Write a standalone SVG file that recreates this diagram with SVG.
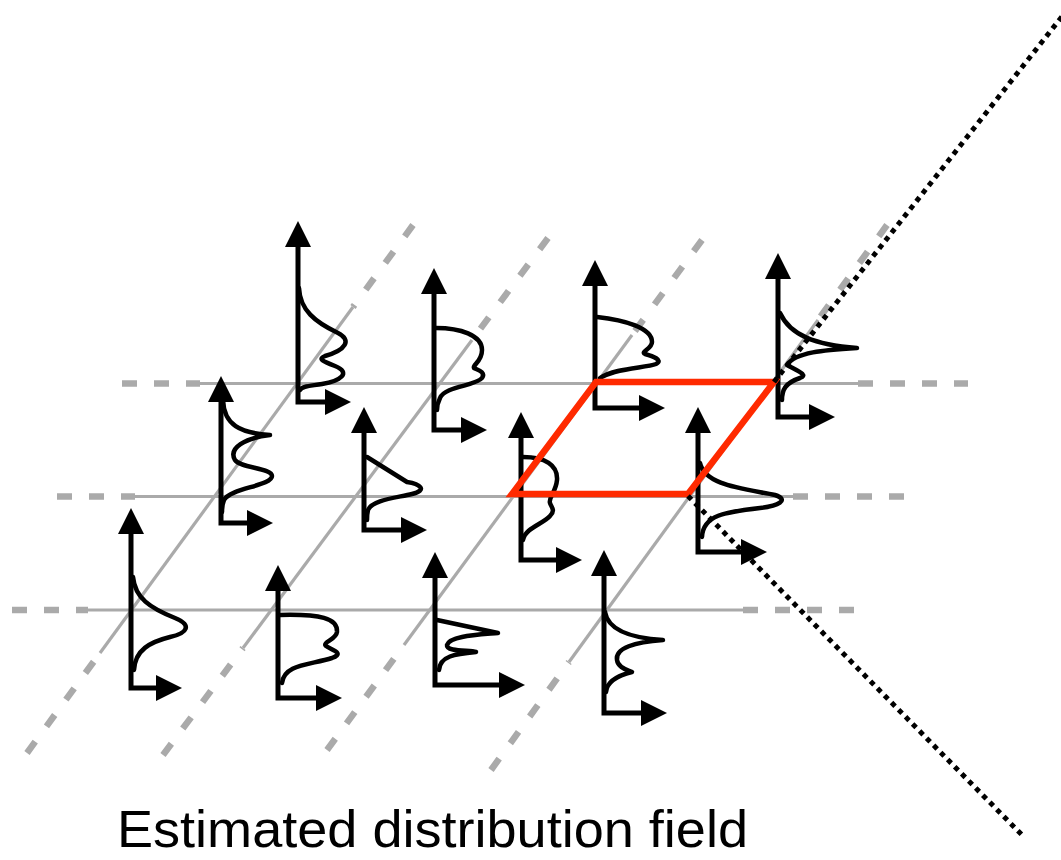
<svg xmlns="http://www.w3.org/2000/svg" width="1061" height="860" viewBox="0 0 1061 860">
<style>
.gs{stroke:#aaaaaa;stroke-width:3.2;fill:none}
.gdh{stroke:#aaaaaa;stroke-width:6.5;fill:none;stroke-dasharray:15 17}
.gdd{stroke:#aaaaaa;stroke-width:6.5;fill:none;stroke-dasharray:14 19}
.ax{stroke:#000;stroke-width:5;fill:none;stroke-linejoin:miter;marker-start:url(#ah);marker-end:url(#ah)}
.cv{stroke:#000;stroke-width:4.5;fill:none;stroke-linejoin:round;stroke-linecap:round}
.red{stroke:#ff2a00;stroke-width:6.5;fill:none;stroke-linejoin:miter}
.dot{stroke:#000;stroke-width:5;fill:none;stroke-dasharray:5 5}
.lbl{font-family:"Liberation Sans",Arial,Helvetica,sans-serif;font-size:52px;fill:#000}
</style>
<defs>
<marker id="ah" viewBox="0 0 26 26" markerWidth="26" markerHeight="26" refX="3" refY="13" orient="auto-start-reverse" markerUnits="userSpaceOnUse">
<path d="M0,0 L26,13 L0,26 z" fill="#000"/>
</marker>
</defs>
<rect width="1061" height="860" fill="#fff"/>
<g id="grid">
<line class="gdh" x1="122" y1="383.5" x2="200" y2="383.5"/>
<line class="gs" x1="200" y1="383.5" x2="858" y2="383.5"/>
<line class="gdh" x1="858" y1="383.5" x2="968" y2="383.5"/>
<line class="gdh" x1="57" y1="496.5" x2="135" y2="496.5"/>
<line class="gs" x1="135" y1="496.5" x2="793" y2="496.5"/>
<line class="gdh" x1="793" y1="496.5" x2="905" y2="496.5"/>
<line class="gdh" x1="12" y1="610" x2="88" y2="610"/>
<line class="gs" x1="88" y1="610" x2="743" y2="610"/>
<line class="gdh" x1="743" y1="610" x2="855" y2="610"/>
<line class="gdd" x1="27" y1="753" x2="100" y2="653"/>
<line class="gs" x1="100" y1="653" x2="353" y2="307"/>
<line class="gdd" x1="413" y1="225" x2="353" y2="307"/>
<line class="gdd" x1="163" y1="755" x2="243" y2="648"/>
<line class="gs" x1="243" y1="648" x2="472" y2="340"/>
<line class="gdd" x1="548" y1="238" x2="472" y2="340"/>
<line class="gdd" x1="327" y1="750" x2="404" y2="645"/>
<line class="gs" x1="404" y1="645" x2="632" y2="335"/>
<line class="gdd" x1="702" y1="240" x2="632" y2="335"/>
<line class="gdd" x1="491" y1="770" x2="569" y2="662"/>
<line class="gs" x1="569" y1="662" x2="818" y2="320"/>
<line class="gdd" x1="887" y1="225" x2="818" y2="320"/>
</g>
<g id="dist-A"><path class="ax" d="M298,244 V402 H328"/><path class="cv" d="M299,288 C300,310 315,322 338,333 C352,340 346,350 325,356 C318,359 322,361 335,366 C352,373 340,381 322,384 C310,386 302,386 300,390"/></g>
<g id="dist-B"><path class="ax" d="M434,291 V430 H464"/><path class="cv" d="M436,328 C460,328 482,335 482,350 C482,362 472,365 474,368 C478,370 486,372 482,378 C476,386 445,386 440,398 C437,404 437,408 437,410"/></g>
<g id="dist-C"><path class="ax" d="M595,283 V408 H642"/><path class="cv" d="M597,317 C625,320 652,328 652,342 C652,349 640,352 645,354 C652,356 664,360 656,364 C646,368 615,368 600,378"/></g>
<g id="dist-D"><path class="ax" d="M778,276 V417 H812"/><path class="cv" d="M780,313 C790,335 815,345 857,348 C825,350 795,352 787,365 C800,372 808,375 800,378 C785,383 782,390 782,400"/></g>
<g id="dist-E"><path class="ax" d="M221,399 V523 H250"/><path class="cv" d="M223,400 C224,425 240,433 270,435 C245,438 228,448 235,460 C240,468 272,468 272,476 C272,486 230,488 224,500 C222,505 222,510 222,512"/></g>
<g id="dist-F"><path class="ax" d="M364,430 V530 H404"/><path class="cv" d="M367,457 L407,482 C420,484 428,490 412,494 C395,498 372,500 368,510 C367,514 367,517 367,520"/></g>
<g id="dist-G"><path class="ax" d="M521,435 V560 H559"/><path class="cv" d="M523,457 C545,457 558,465 557,480 C556,492 548,498 550,503 C551,507 556,510 550,516 C543,524 525,528 523,540"/></g>
<g id="dist-H"><path class="ax" d="M698,430 V552 H744"/><path class="cv" d="M700,463 C705,485 740,488 775,495 C790,500 778,506 760,508 C725,512 703,515 702,537"/></g>
<g id="dist-I"><path class="ax" d="M131,531 V688 H159"/><path class="cv" d="M133,577 C135,598 150,608 175,618 C192,625 188,633 170,637 C150,642 135,650 134,670"/></g>
<g id="dist-J"><path class="ax" d="M278,588 V698 H319"/><path class="cv" d="M280,615 C320,614 338,618 337,632 C336,640 322,642 326,646 C332,650 345,653 332,658 C310,665 284,664 282,683"/></g>
<g id="dist-K"><path class="ax" d="M435,575 V685 H502"/><path class="cv" d="M437,620 L498,633 C475,635 450,636 447,645 C446,652 470,650 476,652 C455,654 440,656 439,670"/></g>
<g id="dist-L"><path class="ax" d="M604,573 V713 H644"/><path class="cv" d="M605,612 C608,630 630,638 663,640 C635,642 615,648 617,660 C618,668 628,670 632,672 C620,675 607,680 606,692"/></g>
<g id="cell"><path class="red" d="M512,494 L688,494 L774,382 L596,382 Z"/></g>
<g id="connectors">
<line class="dot" x1="774" y1="382" x2="1075" y2="0"/>
<line class="dot" x1="688" y1="496" x2="1022" y2="835"/>
</g>
<text class="lbl" x="117" y="847" textLength="631" lengthAdjust="spacingAndGlyphs">Estimated distribution field</text>
</svg>
